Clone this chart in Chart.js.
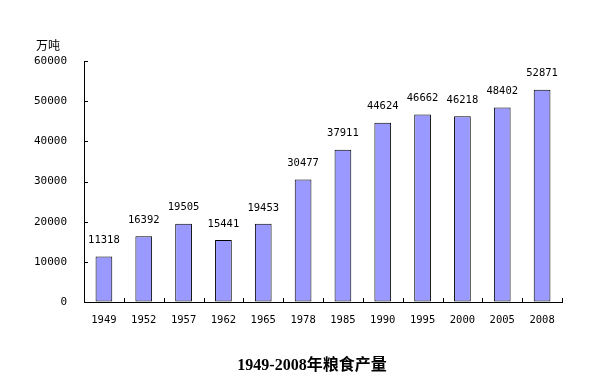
<!DOCTYPE html>
<html lang="zh">
<head>
    <meta charset="UTF-8">
    <title>1949-2008年粮食产量</title>
    <script src="https://cdn.jsdelivr.net/npm/chart.js"></script>
    <style>
        html, body { margin: 0; padding: 0; background: #fff; }
        #wrap { width: 596px; height: 392px; }
    </style>
</head>
<body>
    <div id="wrap"><canvas id="myChart" width="596" height="392"></canvas></div>

    <script>
        const years = ['1949', '1952', '1957', '1962', '1965', '1978', '1985', '1990', '1995', '2000', '2005', '2008'];
        const output = [11318, 16392, 19505, 15441, 19453, 30477, 37911, 44624, 46662, 46218, 48402, 52871];
        const yTicks = [0, 10000, 20000, 30000, 40000, 50000, 60000];
        const unitLabel = '万吨';
        const chartTitle = '1949-2008年粮食产量';

        const monoFont = '"DejaVu Sans Mono", "Liberation Mono", monospace';

        // inward tick marks, value labels, unit and title
        const extras = {
            id: 'extras',
            afterDraw(chart) {
                const ctx = chart.ctx;
                const x = chart.scales.x, y = chart.scales.y;
                const area = chart.chartArea;
                ctx.save();
                ctx.strokeStyle = '#000';
                ctx.lineWidth = 1;
                ctx.beginPath();
                yTicks.forEach(v => {
                    const py = Math.round(y.getPixelForValue(v)) + 0.5;
                    ctx.moveTo(area.left, py);
                    ctx.lineTo(area.left + 4, py);
                });
                const step = (area.right - area.left) / years.length;
                for (let i = 0; i <= years.length; i++) {
                    const px = Math.round(area.left + i * step) + 0.5;
                    ctx.moveTo(px, area.bottom);
                    ctx.lineTo(px, area.bottom - 4);
                }
                ctx.stroke();

                ctx.fillStyle = '#000';
                ctx.font = '10.5px ' + monoFont;
                ctx.textAlign = 'center';
                ctx.textBaseline = 'middle';
                const meta = chart.getDatasetMeta(0);
                meta.data.forEach((bar, i) => {
                    ctx.fillText(String(output[i]), bar.x, bar.y - 16);
                });

                ctx.font = '12px "Noto Sans CJK SC", sans-serif';
                ctx.textAlign = 'left';
                ctx.fillText(unitLabel, 36, 45);

                ctx.font = 'bold 16px "Liberation Serif", "Noto Sans CJK SC", serif';
                ctx.textAlign = 'center';
                ctx.fillText(chartTitle, 312, 366);
                ctx.restore();
            }
        };

        const ctx = document.getElementById('myChart').getContext('2d');
        new Chart(ctx, {
            type: 'bar',
            data: {
                labels: years,
                datasets: [{
                    data: output,
                    backgroundColor: '#9999ff',
                    borderColor: '#000',
                    borderWidth: 1,
                    borderSkipped: false,
                    barPercentage: 0.42,
                    categoryPercentage: 1
                }]
            },
            options: {
                responsive: false,
                animation: false,
                layout: { padding: { top: 61, right: 34, bottom: 60, left: 0 } },
                plugins: {
                    legend: { display: false },
                    tooltip: { enabled: false }
                },
                scales: {
                    x: {
                        offset: true,
                        grid: { drawOnChartArea: false, drawTicks: false },
                        border: { color: '#000', width: 1 },
                        ticks: {
                            color: '#000',
                            font: { family: monoFont, size: 10.5 },
                            padding: 12,
                            maxRotation: 0
                        },
                        afterFit(scale) { scale.height = 30; }
                    },
                    y: {
                        min: 0,
                        max: 60000,
                        afterBuildTicks(scale) { scale.ticks = yTicks.map(v => ({ value: v })); },
                        grid: { drawOnChartArea: false, drawTicks: false },
                        border: { color: '#000', width: 1 },
                        ticks: {
                            color: '#000',
                            font: { family: monoFont, size: 11 },
                            padding: 17,
                            callback: v => String(v)
                        },
                        afterFit(scale) { scale.width = 84; }
                    }
                }
            },
            plugins: [extras]
        });
    </script>
</body>
</html>
